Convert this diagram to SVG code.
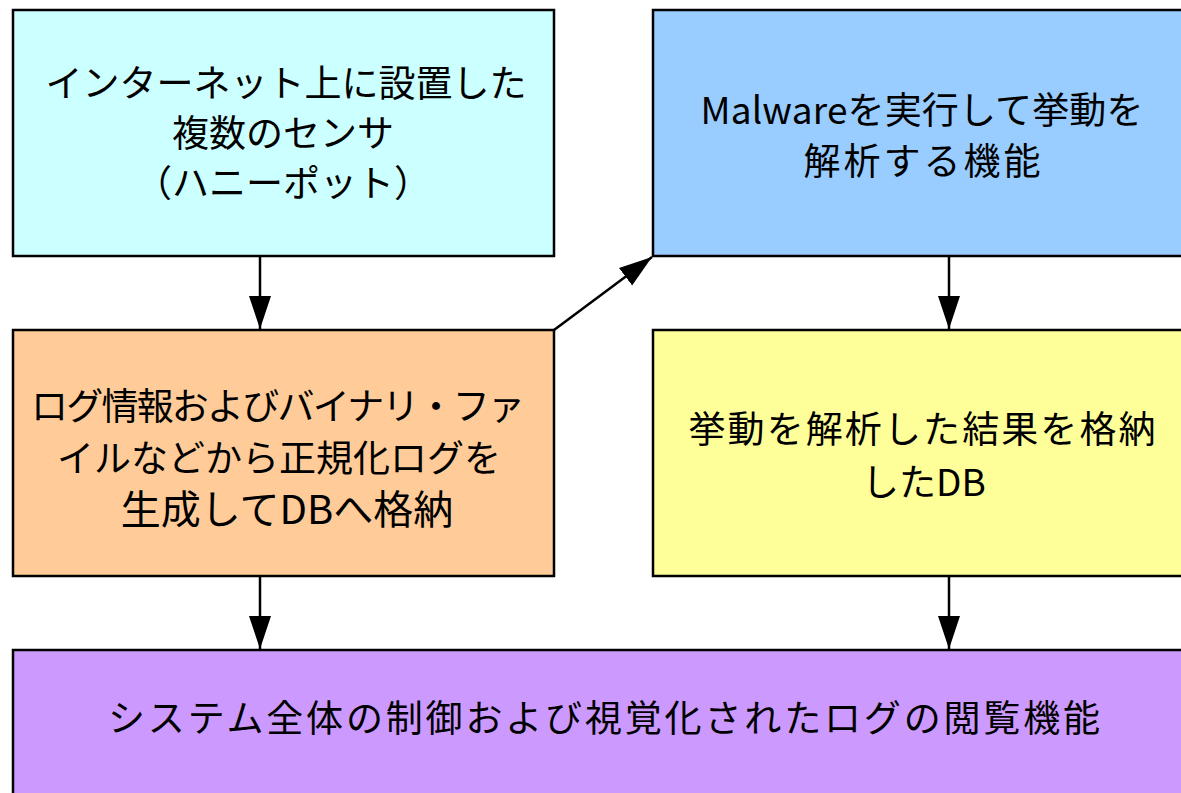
<svg xmlns="http://www.w3.org/2000/svg" width="1181" height="793" viewBox="0 0 1181 793">
<defs>
<style>
.box{stroke:#000;stroke-width:2.5}
.t{font-family:"Noto Sans CJK JP","Liberation Sans",sans-serif;font-size:37px;fill:#000;text-anchor:middle;dominant-baseline:central}
.c{stroke:#000;stroke-width:2.5;fill:none}
</style>
<marker id="ah" markerUnits="userSpaceOnUse" markerWidth="34" markerHeight="24" refX="33" refY="12" orient="auto" viewBox="0 0 34 24">
<path d="M0,1 L33,12 L0,23 Z" fill="#000"/>
</marker>
</defs>
<rect width="1181" height="793" fill="#fff"/>
<g id="sensor">
<rect class="box" x="13" y="10" width="541" height="246" fill="#ccffff"/>
<text class="t" x="286" y="81">インターネット上に設置した</text>
<text class="t" x="283" y="131">複数のセンサ</text>
<text class="t" x="283" y="181">（ハニーポット）</text>
</g>
<g id="malware">
<rect class="box" x="653" y="10" width="545" height="246" fill="#99ccff"/>
<text class="t" x="922" y="108" textLength="443">Malwareを実行して挙動を</text>
<text class="t" x="922" y="159" textLength="237">解析する機能</text>
</g>
<g id="log">
<rect class="box" x="13" y="330" width="541" height="246" fill="#ffcc99"/>
<text class="t" x="278" y="404" textLength="494">ログ情報およびバイナリ・ファ</text>
<text class="t" x="279" y="456">イルなどから正規化ログを</text>
<text class="t" x="287" y="507" style="font-size:40px">生成してDBへ格納</text>
</g>
<g id="resultdb">
<rect class="box" x="653" y="330" width="545" height="246" fill="#ffff99"/>
<text class="t" x="922" y="427" textLength="467">挙動を解析した結果を格納</text>
<text class="t" x="924" y="480">したDB</text>
</g>
<g id="control">
<rect class="box" x="13" y="650" width="1182" height="160" fill="#cc99ff"/>
<text class="t" x="604" y="716" textLength="992">システム全体の制御および視覚化されたログの閲覧機能</text>
</g>
<g id="connectors">
<line class="c" x1="260" y1="256" x2="260" y2="329" marker-end="url(#ah)"/>
<line class="c" x1="554" y1="330" x2="652" y2="257" marker-end="url(#ah)"/>
<line class="c" x1="949" y1="256" x2="949" y2="329" marker-end="url(#ah)"/>
<line class="c" x1="260" y1="576" x2="260" y2="649" marker-end="url(#ah)"/>
<line class="c" x1="949" y1="576" x2="949" y2="649" marker-end="url(#ah)"/>
</g>
</svg>
